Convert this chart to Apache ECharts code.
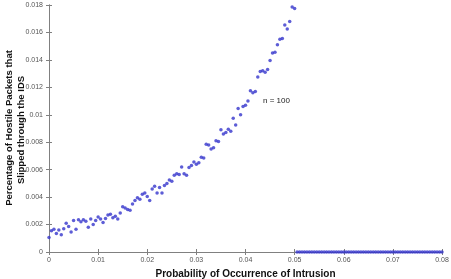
<!DOCTYPE html>
<html>
<head>
<meta charset="utf-8">
<script src="https://cdn.jsdelivr.net/npm/echarts@6/dist/echarts.min.js"></script>
<style>
  html, body { margin: 0; padding: 0; background: #fff; }
  #container { width: 451px; height: 279px; }
</style>
</head>
<body>
<div id="container"></div>
<script>
const container = document.getElementById('container');
const chartIns = echarts.init(container, undefined, { renderer: 'canvas' });

// sampling step of the probability axis
const STEP = 0.0005;

// slipped-through percentage for probabilities 0 .. 0.05
const slippedRising = [
  0.00105, 0.00155, 0.00165, 0.00135, 0.0016, 0.00125, 0.0017, 0.0021, 0.00185, 0.00145,
  0.0023, 0.00165, 0.00235, 0.0022, 0.00235, 0.00225, 0.0018, 0.0024, 0.002, 0.0023,
  0.00255, 0.0024, 0.00215, 0.00245, 0.0027, 0.00275, 0.0025, 0.0026, 0.0024, 0.00285,
  0.0033, 0.0032, 0.0031, 0.00305, 0.0035, 0.00375, 0.00395, 0.00385, 0.0042, 0.0043,
  0.00405, 0.00375, 0.0046, 0.0048, 0.0043, 0.0047, 0.0043, 0.00485, 0.005, 0.00525,
  0.00515, 0.0056, 0.0057, 0.00565, 0.0062, 0.0057, 0.0056, 0.00615, 0.0063, 0.00655,
  0.0064, 0.0065, 0.0069, 0.00685, 0.00785, 0.0078, 0.0075, 0.0076, 0.0081, 0.00805,
  0.0089, 0.0086, 0.0087, 0.00895, 0.0088, 0.00975, 0.00925, 0.01045, 0.01, 0.0106,
  0.0107, 0.011, 0.01175, 0.0116, 0.0117, 0.01275, 0.01315, 0.0132, 0.0131, 0.0133,
  0.01395, 0.0145, 0.01455, 0.0151, 0.0155, 0.01555, 0.01655, 0.01625, 0.0168, 0.01785,
  0.01775
];

// slipped-through percentage for probabilities 0.0505 .. 0.08
const slippedFlat = [
  0, 0, 0, 0, 0, 0, 0, 0, 0, 0,
  0, 0, 0, 0, 0, 0, 0, 0, 0, 0,
  0, 0, 0, 0, 0, 0, 0, 0, 0, 0,
  0, 0, 0, 0, 0, 0, 0, 0, 0, 0,
  0, 0, 0, 0, 0, 0, 0, 0, 0, 0,
  0, 0, 0, 0, 0, 0, 0, 0, 0, 0
];

const xTicks = [0, 0.01, 0.02, 0.03, 0.04, 0.05, 0.06, 0.07, 0.08];
const yTicks = [0, 0.002, 0.004, 0.006, 0.008, 0.01, 0.012, 0.014, 0.016, 0.018];
const yTitleLines = ['Percentage of Hostile Packets that', 'Slipped through the IDS'];

const allY = slippedRising.concat(slippedFlat);
const points = allY.map((v, i) => [+(i * STEP).toFixed(4), v]);

const FONT = '"Liberation Sans", Arial, sans-serif';
const axisGray = '#808080';
const labelStyle = { color: '#555', fontSize: 7, fontFamily: FONT };

const frameAxis = {
  splitLine: { show: false },
  axisLine: { show: true, lineStyle: { color: axisGray, width: 1 } },
  axisTick: { show: true, inside: true, length: 3, lineStyle: { color: axisGray } }
};

const option = {
  backgroundColor: '#fff',
  animation: false,
  grid: { left: 49, right: 9, top: 5, bottom: 27, containLabel: false, outerBoundsMode: 'none' },
  xAxis: [
    Object.assign({
      type: 'value', position: 'bottom',
      min: xTicks[0], max: xTicks[xTicks.length - 1], interval: 0.01,
      axisLabel: Object.assign({ margin: 5 }, labelStyle),
      name: 'Probability of Occurrence of Intrusion',
      nameLocation: 'middle', nameGap: 17,
      nameTextStyle: { fontSize: 10, fontWeight: 'bold', color: '#111', fontFamily: FONT }
    }, frameAxis),
    Object.assign({
      type: 'value', position: 'top',
      min: xTicks[0], max: xTicks[xTicks.length - 1], interval: 0.01,
      axisLabel: { show: false }
    }, frameAxis)
  ],
  yAxis: [
    Object.assign({
      type: 'value', position: 'left',
      min: yTicks[0], max: yTicks[yTicks.length - 1], interval: 0.002,
      axisLabel: Object.assign({ margin: 6 }, labelStyle)
    }, frameAxis),
    Object.assign({
      type: 'value', position: 'right',
      min: yTicks[0], max: yTicks[yTicks.length - 1], interval: 0.002,
      axisLabel: { show: false }
    }, frameAxis)
  ],
  graphic: [
    {
      type: 'text', x: 9, y: 128, rotation: Math.PI / 2,
      style: { text: yTitleLines[0], fontSize: 9.5, fontWeight: 'bold', fill: '#111', fontFamily: FONT, align: 'center', verticalAlign: 'middle' }
    },
    {
      type: 'text', x: 21, y: 130, rotation: Math.PI / 2,
      style: { text: yTitleLines[1], fontSize: 9.5, fontWeight: 'bold', fill: '#111', fontFamily: FONT, align: 'center', verticalAlign: 'middle' }
    },
    {
      type: 'text', left: 263, top: 97,
      style: { text: 'n = 100', fontSize: 8, fill: '#222', fontFamily: FONT }
    }
  ],
  series: [{
    type: 'scatter',
    xAxisIndex: 0, yAxisIndex: 0,
    symbol: 'circle',
    symbolSize: 3.5,
    itemStyle: { color: '#3535cc' },
    data: points
  }]
};

chartIns.setOption(option);
</script>
</body>
</html>
